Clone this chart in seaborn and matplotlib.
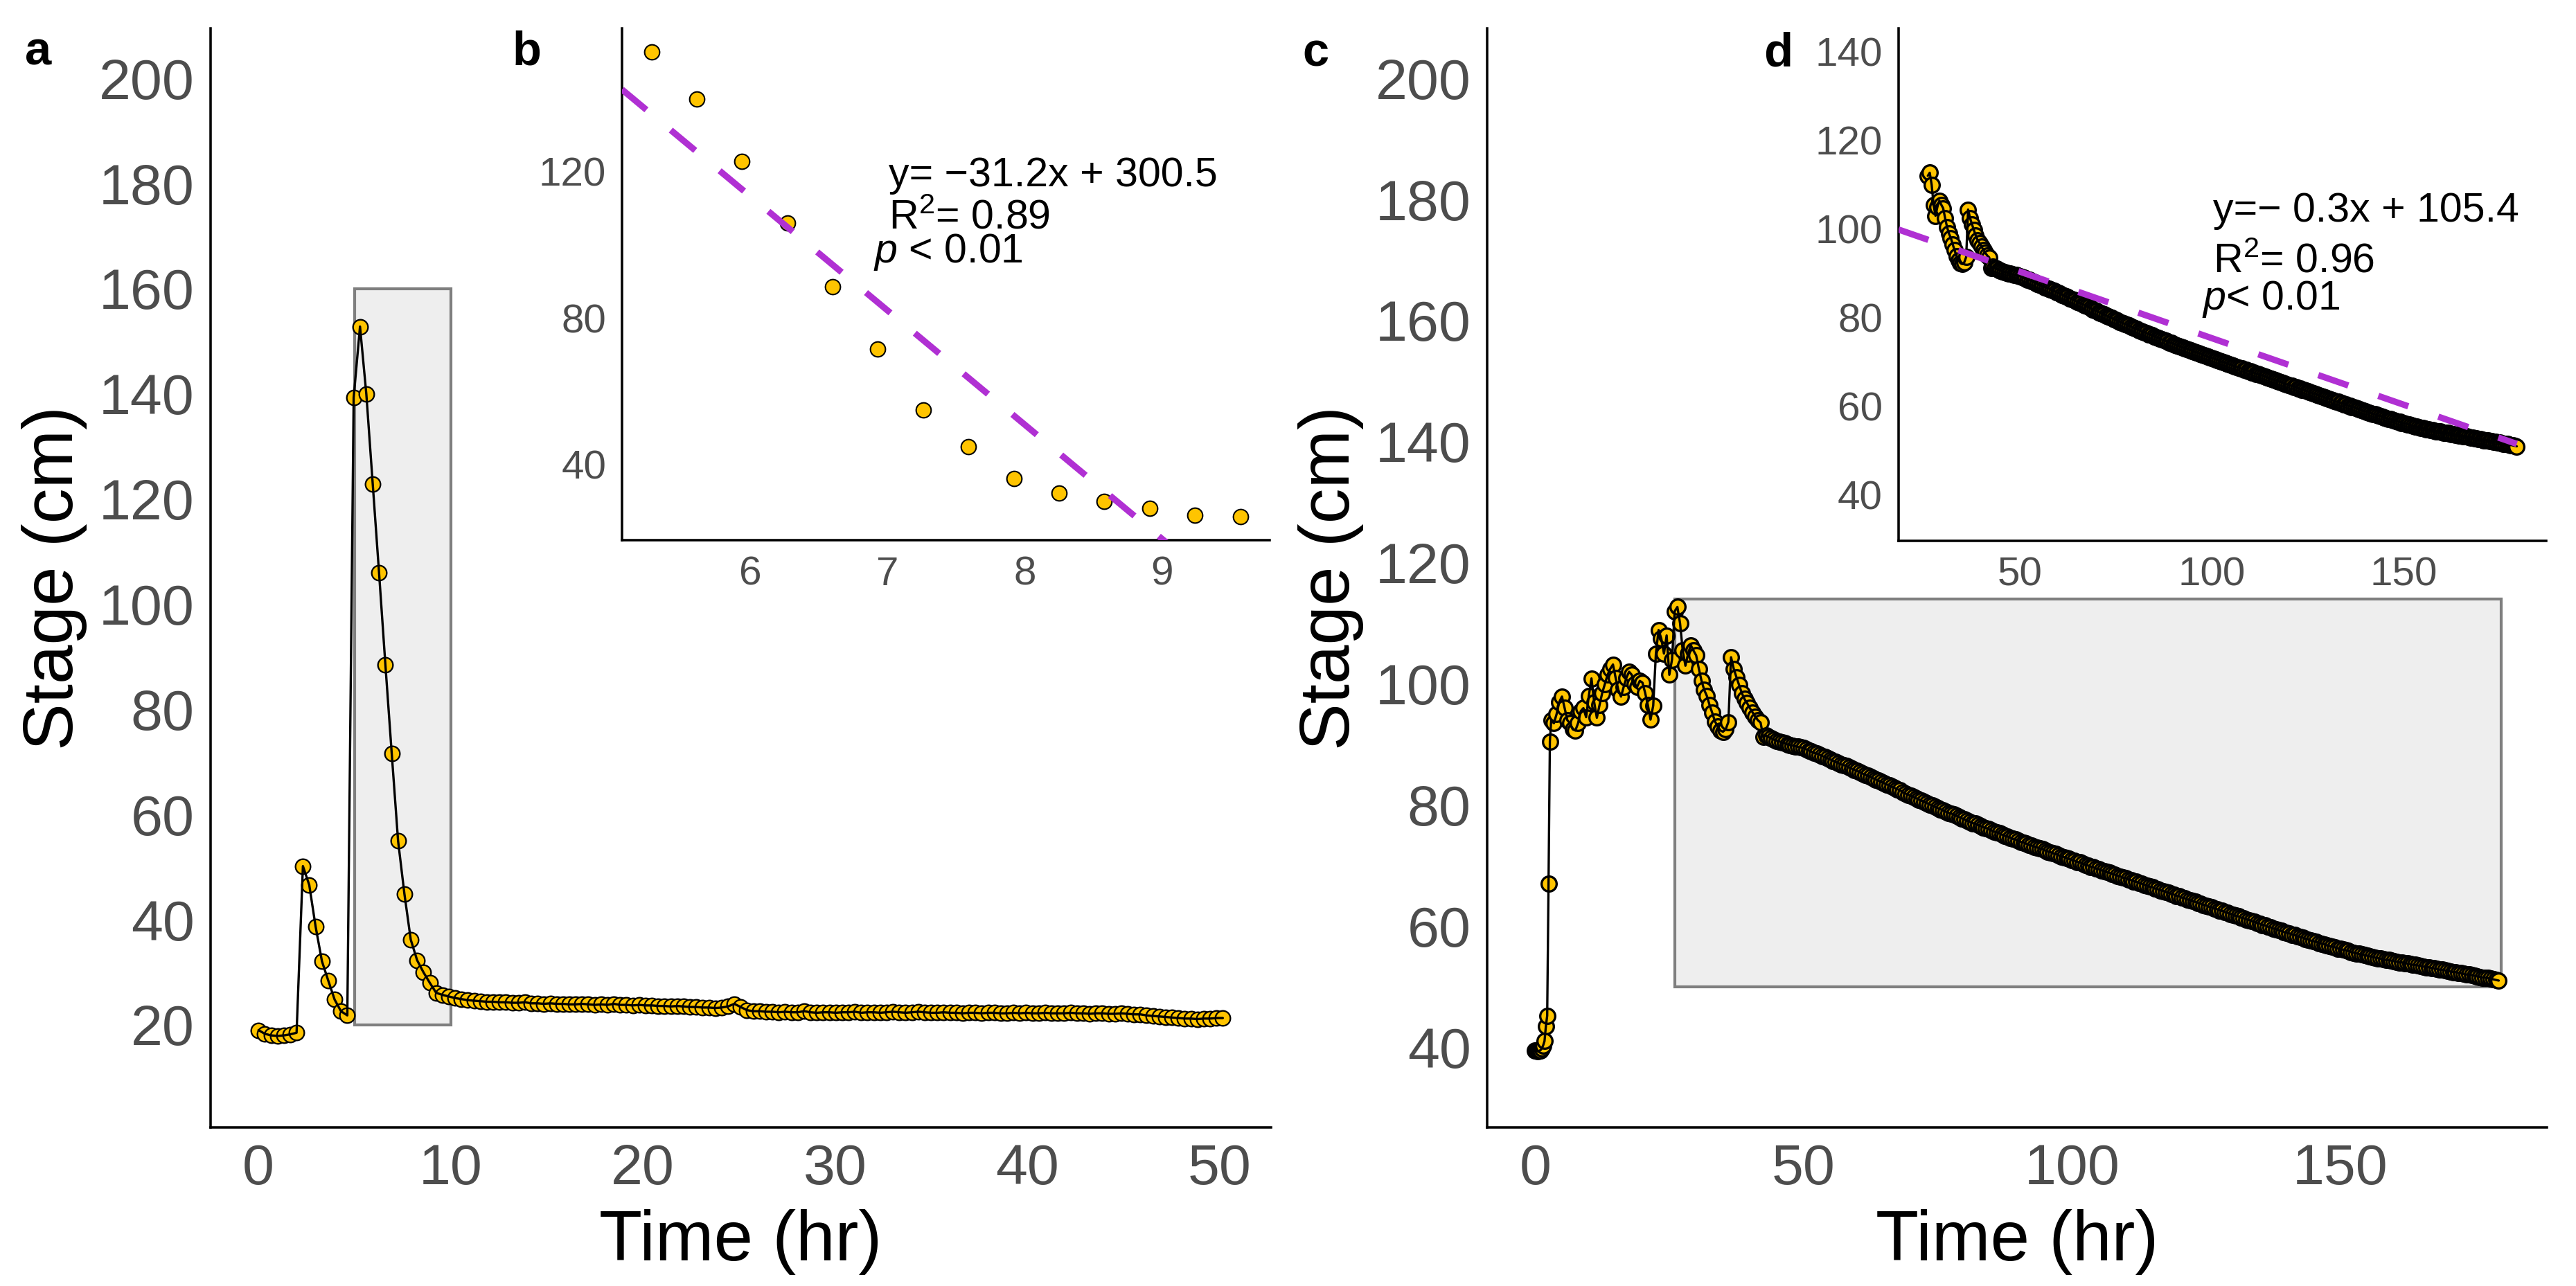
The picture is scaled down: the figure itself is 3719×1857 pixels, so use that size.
import numpy as np
import pandas as pd
import matplotlib
matplotlib.use("Agg")
import matplotlib.pyplot as plt
from matplotlib.patches import Rectangle
import seaborn as sns

# ---------------------------------------------------------------- data
# Panel a: stage readings, one reading every 0.33 hr
step_a = 0.33
stage_a = [
    19.0, 18.3, 18.0, 17.9, 18.0, 18.2, 18.5, 50.2, 46.6, 38.7,
    32.1, 28.4, 24.8, 22.6, 21.8, 139.3, 152.8, 139.9, 122.9, 106.0,
    88.5, 71.6, 55.0, 44.9, 36.2, 32.3, 30.0, 28.0, 26.1, 25.7,
    25.4, 25.1, 24.9, 24.7, 24.6, 24.5, 24.4, 24.4, 24.3, 24.3,
    24.2, 24.2, 24.3, 24.1, 24.1, 24.0, 24.1, 24.0, 24.0, 23.9,
    23.9, 24.0, 23.9, 23.8, 23.9, 23.8, 24.0, 23.8, 23.8, 23.7,
    23.8, 23.7, 23.7, 23.6, 23.6, 23.5, 23.6, 23.5, 23.4, 23.4,
    23.3, 23.3, 23.2, 23.3, 23.5, 24.0, 23.4, 22.8, 22.6, 22.6,
    22.5, 22.5, 22.4, 22.5, 22.4, 22.4, 22.6, 22.4, 22.3, 22.4,
    22.4, 22.3, 22.4, 22.4, 22.5, 22.3, 22.4, 22.4, 22.3, 22.4,
    22.5, 22.4, 22.3, 22.4, 22.5, 22.4, 22.3, 22.3, 22.4, 22.3,
    22.3, 22.2, 22.3, 22.3, 22.2, 22.3, 22.3, 22.2, 22.2, 22.3,
    22.2, 22.3, 22.2, 22.2, 22.3, 22.2, 22.2, 22.2, 22.3, 22.2,
    22.2, 22.1, 22.2, 22.2, 22.1, 22.1, 22.2, 22.1, 22.0, 22.0,
    21.8, 21.7, 21.6, 21.5, 21.4, 21.3, 21.2, 21.2, 21.1, 21.2,
    21.2, 21.3, 21.3,
]

# Panel c: rising limb (irregular readings), then one reading every 0.5 hr
time_c_rise = [0.0, 0.25, 0.5, 0.75, 1.0, 1.25, 1.5, 1.75, 2.0, 2.25, 2.5, 2.75]
stage_c_rise = [39.5, 39.4, 39.3, 39.4, 39.5, 39.8, 40.3, 41.0, 43.4, 45.2, 67.0, 90.5]
start_c_mid, step_c = 3.0, 0.5
stage_c_mid = [
    94.0, 93.5, 95.0, 97.0, 97.9, 96.0, 94.0, 93.5, 92.5, 92.3,
    93.5, 95.5, 96.0, 94.5, 98.0, 100.9, 97.0, 94.4, 96.5, 98.5,
    100.0, 101.5, 102.5, 103.2, 101.0, 99.0, 97.9, 99.5, 101.0, 102.0,
    101.5, 100.0, 99.5, 100.5, 100.2, 98.5, 96.5, 94.1, 96.4, 105.0,
    108.9, 107.5, 105.0, 108.0, 101.5, 104.0, 112.0, 112.7, 110.0, 105.5,
    103.0, 105.0, 106.4, 105.5, 104.7, 102.5, 100.5, 99.0, 98.0, 96.5,
    95.2, 93.8, 93.0, 92.3, 92.1, 92.5, 93.7, 104.4, 102.5, 101.1,
    99.8, 98.5, 97.5, 96.8, 96.0, 95.3, 94.6, 94.0, 93.6, 91.2,
    91.5, 91.2, 91.0, 90.8,
]
start_c_decay = 45.0
stage_c_decay = [
    90.6, 90.5, 90.3, 90.2, 90.0, 89.9, 89.8, 89.7, 89.6, 89.5,
    89.4, 89.2, 89.0, 88.8, 88.6, 88.5, 88.3, 88.1, 87.9, 87.7,
    87.5, 87.3, 87.1, 86.9, 86.7, 86.6, 86.4, 86.2, 86.0, 85.8,
    85.6, 85.4, 85.2, 85.0, 84.8, 84.6, 84.4, 84.2, 84.0, 83.8,
    83.6, 83.4, 83.2, 83.0, 82.8, 82.6, 82.4, 82.1, 81.9, 81.7,
    81.5, 81.3, 81.1, 80.9, 80.7, 80.5, 80.3, 80.1, 79.9, 79.7,
    79.5, 79.3, 79.1, 78.9, 78.7, 78.6, 78.4, 78.2, 78.0, 77.8,
    77.6, 77.4, 77.2, 77.0, 76.9, 76.7, 76.5, 76.3, 76.2, 76.0,
    75.8, 75.6, 75.5, 75.3, 75.1, 74.9, 74.8, 74.6, 74.4, 74.3,
    74.1, 73.9, 73.8, 73.6, 73.4, 73.3, 73.1, 73.0, 72.8, 72.7,
    72.5, 72.3, 72.2, 72.0, 71.9, 71.7, 71.5, 71.4, 71.2, 71.1,
    70.9, 70.8, 70.6, 70.5, 70.3, 70.1, 70.0, 69.8, 69.7, 69.5,
    69.4, 69.2, 69.1, 68.9, 68.8, 68.6, 68.5, 68.3, 68.2, 68.0,
    67.9, 67.7, 67.6, 67.4, 67.3, 67.1, 67.0, 66.8, 66.7, 66.5,
    66.4, 66.2, 66.1, 65.9, 65.8, 65.6, 65.5, 65.3, 65.2, 65.0,
    64.9, 64.7, 64.6, 64.4, 64.3, 64.1, 64.0, 63.8, 63.7, 63.5,
    63.4, 63.2, 63.1, 62.9, 62.8, 62.6, 62.5, 62.3, 62.2, 62.0,
    61.9, 61.7, 61.6, 61.4, 61.3, 61.1, 61.0, 60.8, 60.7, 60.5,
    60.4, 60.2, 60.1, 59.9, 59.8, 59.6, 59.5, 59.3, 59.2, 59.0,
    58.9, 58.8, 58.6, 58.5, 58.3, 58.2, 58.1, 57.9, 57.8, 57.6,
    57.5, 57.4, 57.2, 57.1, 57.0, 56.8, 56.7, 56.6, 56.5, 56.3,
    56.2, 56.1, 56.0, 55.9, 55.7, 55.6, 55.5, 55.4, 55.3, 55.2,
    55.1, 55.0, 54.9, 54.8, 54.7, 54.6, 54.5, 54.4, 54.4, 54.3,
    54.2, 54.1, 54.0, 54.0, 53.9, 53.8, 53.7, 53.6, 53.6, 53.5,
    53.4, 53.3, 53.2, 53.2, 53.1, 53.0, 52.9, 52.8, 52.8, 52.7,
    52.6, 52.5, 52.4, 52.4, 52.3, 52.2, 52.1, 52.0, 52.0, 51.9,
    51.8, 51.7, 51.6, 51.5, 51.5, 51.4, 51.3, 51.2, 51.1, 51.0,
]

# zoom windows (shaded boxes) : x0, x1, y0, y1
box_a = [5, 10, 20, 160]
box_c = [26, 180, 50, 114]
# insets take the data inside these time windows
window_b = [5.2, 9.7]
window_d = [26.0, 181.0]

# linear fits shown in the insets: slope, intercept
fit_b = [-31.2, 300.5]
fit_d = [-0.3, 105.4]
fit_b_text = ["y= \u221231.2x + 300.5", r"$\mathregular{R^{2}}$= 0.89", r"$p$ < 0.01"]
fit_d_text = ["y=\u2212 0.3x + 105.4", r"$\mathregular{R^{2}}$= 0.96", r"$p$< 0.01"]
fit_b_pos = [(7.01, 116.0), (7.01, 104.3), (6.90, 95.2)]
fit_d_pos = [(100.4, 101.7), (100.4, 90.2), (97.4, 81.8)]

# axis ticks
xt_a = list(range(0, 51, 5));        xl_a = [str(v) if v % 10 == 0 else "" for v in xt_a]
yt_a = list(range(10, 201, 10));     yl_a = [str(v) if v % 20 == 0 else "" for v in yt_a]
xt_b = [6, 7, 8, 9];                 xl_b = ["6", "7", "8", "9"]
yt_b = list(range(20, 141, 20));     yl_b = [str(v) if v % 40 == 0 else "" for v in yt_b]
xt_c = list(range(0, 176, 25));      xl_c = [str(v) if v % 50 == 0 else "" for v in xt_c]
yt_c = list(range(30, 201, 10));     yl_c = [str(v) if v % 20 == 0 else "" for v in yt_c]
xt_d = list(range(25, 176, 25));     xl_d = [str(v) if v % 50 == 0 else "" for v in xt_d]
yt_d = list(range(40, 141, 10));     yl_d = [str(v) if v % 20 == 0 else "" for v in yt_d]
ylim_a = (10, 200)
ylim_c = (35, 200)
ylim_d = (35, 140)

# ---------------------------------------------------------------- frames
time_a = step_a * np.arange(len(stage_a))
df_a = pd.DataFrame({"time": time_a, "stage": stage_a})
time_c = np.concatenate([
    np.array(time_c_rise),
    start_c_mid + step_c * np.arange(len(stage_c_mid)),
    start_c_decay + step_c * np.arange(len(stage_c_decay)),
])
df_c = pd.DataFrame({"time": time_c, "stage": stage_c_rise + stage_c_mid + stage_c_decay})
df_b = df_a[(df_a.time >= window_b[0]) & (df_a.time <= window_b[1])]
df_d = df_c[(df_c.time >= window_d[0]) & (df_c.time <= window_d[1])]

# ---------------------------------------------------------------- style
sns.set_style("white")
plt.rcParams["font.family"] = ["Liberation Sans", "DejaVu Sans"]
plt.rcParams["mathtext.fontset"] = "custom"
plt.rcParams["mathtext.rm"] = "Liberation Sans"
plt.rcParams["mathtext.it"] = "Liberation Sans:italic"

W, H, DPI = 3719, 1857, 300
fig = plt.figure(figsize=(W / DPI, H / DPI), dpi=DPI)
fig.patch.set_facecolor("white")

YELLOW = "#FFC400"
PURPLE = "#B030D3"
TICKC = "#4D4D4D"


def frac(x0, y0, x1, y1):
    return [x0 / W, 1 - y1 / H, (x1 - x0) / W, (y1 - y0) / H]


def padded(lo, hi, m=0.05):
    r = hi - lo
    return lo - m * r, hi + m * r


def style(ax, xt, xl, yt, yl, fs):
    for s in ["top", "right"]:
        ax.spines[s].set_visible(False)
    for s in ["left", "bottom"]:
        ax.spines[s].set_color("black")
        ax.spines[s].set_linewidth(0.85)
    ax.set_xticks(xt)
    ax.set_xticklabels(xl)
    ax.set_yticks(yt)
    ax.set_yticklabels(yl)
    ax.tick_params(axis="both", direction="out", length=2.9, width=0.9,
                   color="#333333", labelcolor=TICKC, labelsize=fs, pad=2.6)
    ax.grid(False)


def draw_series(ax, df, edge=0.5, line=True):
    sns.scatterplot(data=df, x="time", y="stage", ax=ax, color=YELLOW,
                    edgecolor="black", linewidth=edge, s=27, legend=False, zorder=2)
    if line:
        sns.lineplot(data=df, x="time", y="stage", ax=ax, color="black",
                     linewidth=0.8, estimator=None, sort=False, zorder=3)


def add_box(ax, box):
    ax.add_patch(Rectangle((box[0], box[2]), box[1] - box[0], box[3] - box[2],
                           facecolor="#EEEEEE", edgecolor="#7F7F7F",
                           linewidth=1.0, zorder=1))


def dashed_fit(ax, xx, fit):
    sns.lineplot(x=xx, y=fit[0] * xx + fit[1], ax=ax, color=PURPLE,
                 linewidth=2.2, zorder=4)
    ax.lines[-1].set_linestyle((0, (5, 5)))


# ---------------------------------------------------------------- panel a
ax_a = fig.add_axes(frac(303.6, 41, 1835, 1628))
add_box(ax_a, box_a)
draw_series(ax_a, df_a, edge=0.55)
ax_a.set_xlim(*padded(df_a.time.min(), df_a.time.max()))
ax_a.set_ylim(*padded(*ylim_a))
style(ax_a, xt_a, xl_a, yt_a, yl_a, 19.8)
ax_a.set_xlabel("Time (hr)", fontsize=24.4, color="black", labelpad=4.5)
ax_a.set_ylabel("Stage (cm)", fontsize=24.4, color="black", labelpad=4.0)

# ---------------------------------------------------------------- panel c
ax_c = fig.add_axes(frac(2146.7, 41, 3677, 1628))
add_box(ax_c, box_c)
draw_series(ax_c, df_c, edge=0.8)
ax_c.set_xlim(*padded(df_c.time.min(), df_c.time.max()))
ax_c.set_ylim(*padded(*ylim_c))
style(ax_c, xt_c, xl_c, yt_c, yl_c, 19.8)
ax_c.set_xlabel("Time (hr)", fontsize=24.4, color="black", labelpad=4.5)
ax_c.set_ylabel("Stage (cm)", fontsize=24.4, color="black", labelpad=4.0)

# ---------------------------------------------------------------- inset b
ax_b = fig.add_axes(frac(898, 41, 1833, 780))
ax_b.set_facecolor("white")
draw_series(ax_b, df_b, edge=0.5, line=False)
xlb = padded(df_b.time.min(), df_b.time.max())
ylb = padded(df_b.stage.min(), df_b.stage.max())
dashed_fit(ax_b, np.array(xlb), fit_b)
ax_b.set_xlim(*xlb)
ax_b.set_ylim(*ylb)
style(ax_b, xt_b, xl_b, yt_b, yl_b, 14.0)
ax_b.set_xlabel("")
ax_b.set_ylabel("")
for t, (px, py) in zip(fit_b_text, fit_b_pos):
    ax_b.text(px, py, t, fontsize=14.2, color="black", ha="left", va="baseline", zorder=5)

# ---------------------------------------------------------------- inset d
ax_d = fig.add_axes(frac(2740.7, 41, 3676, 780.6))
ax_d.set_facecolor("white")
draw_series(ax_d, df_d, edge=0.8)
xld = padded(df_d.time.min(), df_d.time.max())
dashed_fit(ax_d, np.array([xld[0], df_d.time.max()]), fit_d)
ax_d.set_xlim(*xld)
ax_d.set_ylim(*padded(*ylim_d))
style(ax_d, xt_d, xl_d, yt_d, yl_d, 14.0)
ax_d.set_xlabel("")
ax_d.set_ylabel("")
for t, (px, py) in zip(fit_d_text, fit_d_pos):
    ax_d.text(px, py, t, fontsize=14.2, color="black", ha="left", va="baseline", zorder=5)

# ---------------------------------------------------------------- panel letters
for letter, px, py in [("a", 36, 94), ("b", 740, 94), ("c", 1880, 95), ("d", 2546, 95.7)]:
    fig.text(px / W, 1 - py / H, letter, fontsize=16.5, fontweight="bold",
             color="black", ha="left", va="baseline")

fig.savefig("out.png", dpi=DPI, facecolor="white")
